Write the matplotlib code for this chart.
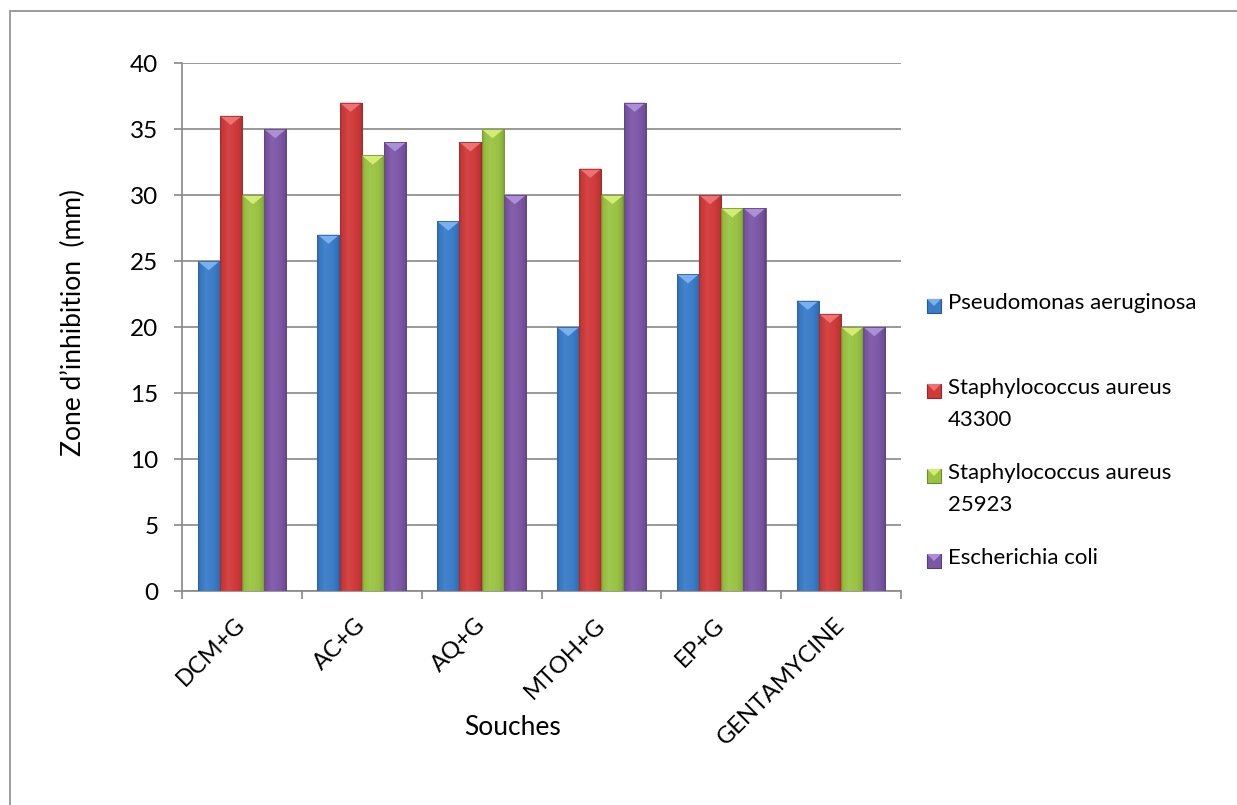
import numpy as np
import matplotlib
matplotlib.use("Agg")
import matplotlib.pyplot as plt
from matplotlib.patches import Rectangle, Polygon
from matplotlib.colors import to_rgb

# ---- data -------------------------------------------------------------
categories = ["DCM+G", "AC+G", "AQ+G", "MTOH+G", "EP+G", "GENTAMYCINE"]
series_names = ["Pseudomonas aeruginosa",
                "Staphylococcus aureus\n43300",
                "Staphylococcus aureus\n25923",
                "Escherichia coli"]
pseudomonas = [25, 27, 28, 20, 24, 22]
staph_43300 = [36, 37, 34, 32, 30, 21]
staph_25923 = [30, 33, 35, 30, 29, 20]
e_coli = [35, 34, 30, 37, 29, 20]
y_ticks = [0, 5, 10, 15, 20, 25, 30, 35, 40]

series_values = [pseudomonas, staph_43300, staph_25923, e_coli]
base_colors = ["#3a7cc8", "#d03a3a", "#9ac343", "#7c57a7"]
top_colors = ["#79b0ee", "#ee7272", "#d3ec74", "#ad8fd6"]

FONT = "Lato"
plt.rcParams["font.family"] = [FONT, "DejaVu Sans"]

W, H = 1237, 805
fig = plt.figure(figsize=(W / 100, H / 100), dpi=100)
fig.patch.set_facecolor("white")

# chart frame (only top and left edges fall inside the canvas)
fig.patches.append(Rectangle((10 / W, -0.2), 1.5, (1 - 11 / H) + 0.2,
                             transform=fig.transFigure, fill=False,
                             edgecolor="#8c8c8c", linewidth=1.2))

ax = fig.add_axes([182 / W, 1 - 591 / H, (901 - 182) / W, (591 - 63) / H])
ax.set_xlim(0, len(categories))
ax.set_ylim(0, 40)

grid_col = "#888888"
ax.set_yticks(y_ticks)
ax.yaxis.grid(True, color=grid_col, linewidth=1.2)
ax.set_axisbelow(True)
for side in ("top", "right"):
    ax.spines[side].set_visible(False)
for side in ("left", "bottom"):
    ax.spines[side].set_color(grid_col)
    ax.spines[side].set_linewidth(1.2)

ax.tick_params(axis="y", direction="out", length=6, width=1.2, color=grid_col,
               labelsize=17.5, pad=11, labelcolor="black")
ax.set_xticks(np.arange(len(categories) + 1))
ax.set_xticklabels([])
ax.tick_params(axis="x", which="major", direction="out", length=6, width=1.2,
               color=grid_col)
ax.set_xticks(np.arange(len(categories)) + 0.5, minor=True)
ax.set_xticklabels(categories, minor=True, rotation=45, ha="right",
                   va="center", rotation_mode="anchor", fontsize=17)
ax.tick_params(axis="x", which="minor", length=0, pad=22, labelcolor="black")


def shaded(color, factor):
    r, g, b = to_rgb(color)
    if factor >= 1:
        return tuple(c + (1 - c) * (factor - 1) for c in (r, g, b))
    return tuple(c * factor for c in (r, g, b))


# horizontal shading profile across each bar
profile_t = np.linspace(0, 1, 64)
profile_f = np.interp(profile_t, [0, 0.08, 0.35, 0.7, 0.92, 1.0],
                      [0.78, 0.95, 1.06, 1.0, 0.9, 0.72])

bar_w = 0.185
n_series = len(series_values)
x_centers = np.arange(len(categories)) + 0.5
bevel = 0.7  # depth of the bevelled top, in data units

for i, (vals, col, tcol) in enumerate(zip(series_values, base_colors, top_colors)):
    offs = (i - (n_series - 1) / 2) * bar_w
    bars = ax.bar(x_centers + offs, vals, width=bar_w, color=col,
                  edgecolor="none", zorder=2)
    grad = np.array([[shaded(col, f) for f in profile_f]])
    for rect, v in zip(bars, vals):
        x0 = rect.get_x()
        w = rect.get_width()
        im = ax.imshow(grad, extent=(x0, x0 + w, 0, v), aspect="auto",
                       interpolation="bilinear", zorder=3)
        im.set_clip_path(rect)
        # bevelled top
        ax.add_patch(Polygon([(x0, v), (x0 + w, v), (x0 + w / 2, v - bevel)],
                             closed=True, facecolor=tcol, edgecolor="none",
                             zorder=4))
        ax.add_patch(Rectangle((x0, 0), w, v, fill=False,
                               edgecolor=shaded(col, 0.8), linewidth=0.6,
                               zorder=5))

ax.set_xlim(0, len(categories))
ax.set_ylim(0, 40)

# axis titles
fig.text(73 / W, 1 - 322 / H, "Zone d\u2019inhibition  (mm)", rotation=90,
         ha="center", va="center", fontsize=19)
fig.text(513 / W, 1 - 727 / H, "Souches", ha="center", va="center",
         fontsize=19)

# legend
entry_y = [303, 388, 473, 558]
line_gap = 32
for name, col, tcol, y in zip(series_names, base_colors, top_colors, entry_y):
    sq = 14
    fig.patches.append(Rectangle((927 / W, 1 - (y + 3 + sq / 2) / H), sq / W,
                                 sq / H, transform=fig.transFigure,
                                 facecolor=col, edgecolor=shaded(col, 0.7),
                                 linewidth=0.8))
    fig.patches.append(Polygon([(927 / W, 1 - (y + 3 - sq / 2) / H),
                                ((927 + sq) / W, 1 - (y + 3 - sq / 2) / H),
                                ((927 + sq / 2) / W, 1 - (y + 3) / H)],
                               closed=True, transform=fig.transFigure,
                               facecolor=tcol, edgecolor="none"))
    for k, line in enumerate(name.split("\n")):
        fig.text(948 / W, 1 - (y + k * line_gap) / H, line, ha="left",
                 va="center", fontsize=16)

fig.savefig("out.png", dpi=100)
